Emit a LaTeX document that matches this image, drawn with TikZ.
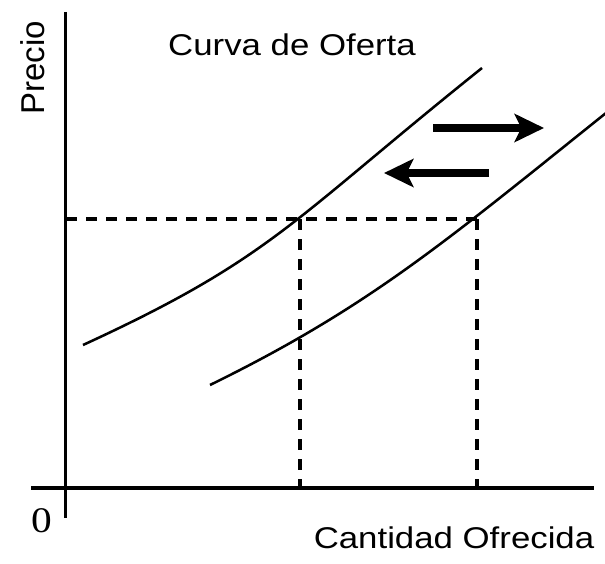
\documentclass[tikz,border=0pt]{standalone}
\usepackage{fontspec}
\setmainfont{Liberation Sans}
\newfontfamily\serifzero{Liberation Serif}
\usetikzlibrary{arrows.meta}
\begin{document}
\begin{tikzpicture}[x=0.75pt,y=-0.75pt,
  axis/.style={line width=2.6pt},
  curve/.style={line width=1.9pt},
  guide/.style={line width=2.6pt, dash pattern=on 8.5pt off 6.5pt},
  shiftarrow/.style={line width=6.2pt,-{Stealth[length=22pt,width=21pt,inset=5pt]}},
  lbl/.style={font=\fontsize{22.5pt}{26pt}\selectfont, xscale=1.16, anchor=base, inner sep=0pt}]
\useasboundingbox (0,0) rectangle (605,563);
% axes
\coordinate (ytop) at (65.5,12);
\coordinate (ybot) at (65.5,518);
\coordinate (xl) at (31,488);
\coordinate (xr) at (594,488);
\draw[axis] (ytop) -- (ybot);
\draw[axis] (xl) -- (xr);
% key points
\coordinate (e1) at (300,219);
\coordinate (e2) at (477,219);
\coordinate (yp) at (66,219);
\coordinate (q1) at (300,488);
\coordinate (q2) at (477,488);
% guides
\draw[guide] (yp) -- (e2);
\draw[guide] (e1) -- (q1);
\draw[guide] (e2) -- (q2);
% supply curves
\coordinate (s1a) at (83,345);
\coordinate (s1b) at (482,68);
\coordinate (s2a) at (210,385);
\coordinate (s2b) at (606,113);
\draw[curve] (s1a) .. controls (273,257.6) and (292,220) .. (s1b);
\draw[curve] (s2a) .. controls (370,306.6) and (446,241) .. (s2b);
% shift arrows
\coordinate (r1) at (433,128);
\coordinate (r2) at (544,128);
\coordinate (l1) at (489,173);
\coordinate (l2) at (384,173);
\draw[shiftarrow] (r1) -- (r2);
\draw[shiftarrow] (l1) -- (l2);
% labels
\node[lbl] (title) at (292,55.5) {Curva de Oferta};
\node[lbl] (xlab) at (454,548) {Cantidad Ofrecida};
\node[font=\fontsize{24.75pt}{28pt}\selectfont, anchor=base, rotate=90, inner sep=0pt] (ylab) at (44,68) {Precio};
\node[font=\fontsize{27pt}{30pt}\serifzero, xscale=1.15, anchor=base, inner sep=0pt] (zero) at (41.5,532) {0};
\end{tikzpicture}
\end{document}
